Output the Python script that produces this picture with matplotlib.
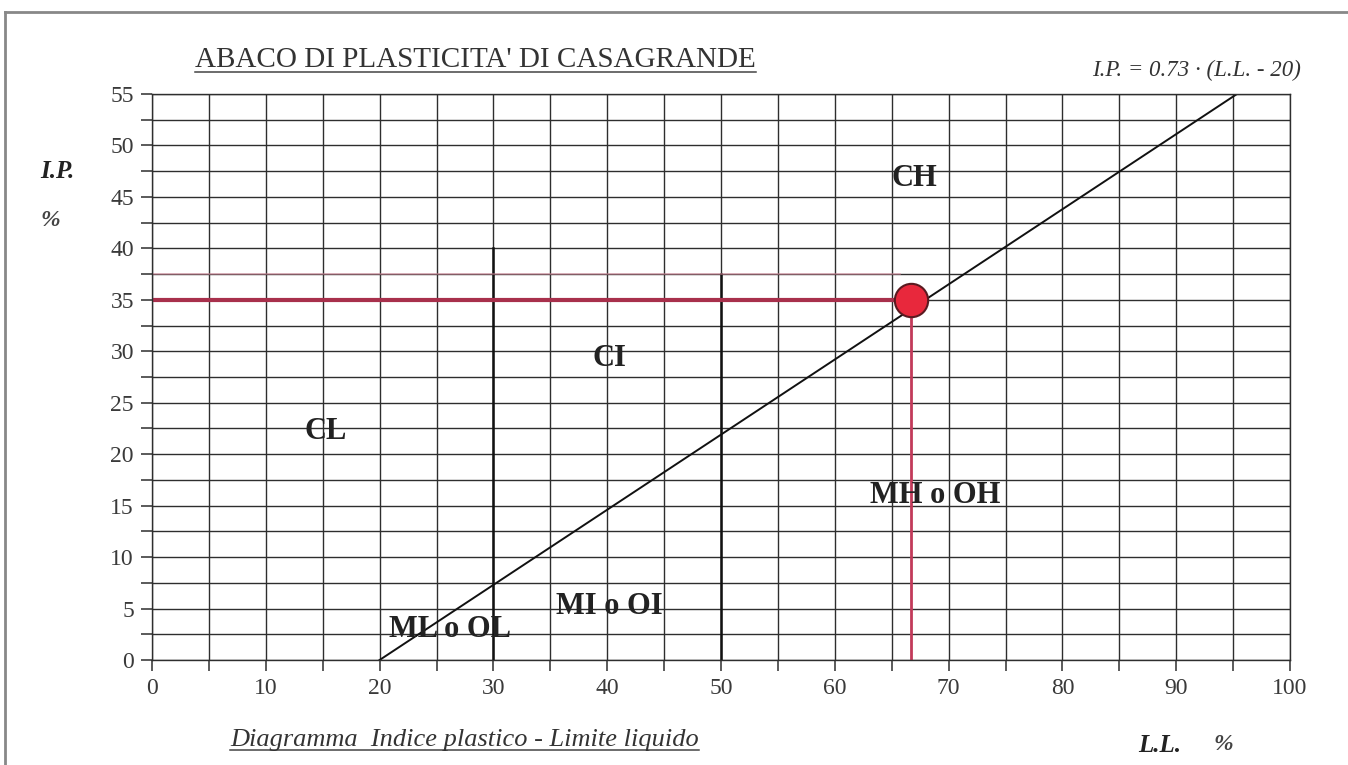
import matplotlib
matplotlib.use("Agg")
import matplotlib.pyplot as plt
from matplotlib.lines import Line2D
import numpy as np

plt.rcParams['font.family'] = ['Liberation Serif', 'DejaVu Serif']

# A-line: I.P. = 0.73 * (L.L. - 20)
a_line_ll = [20, 95.34]
a_line_ip = [0.0, 55.0]

# sample point
sample_ll = 66.7
sample_ip = 35.0

# zone boundaries (L.L. = 30 and 50)
bound_ll = [30, 50]
bound_top = [40, 37.5]

zone_labels = ["CH", "CI", "CL", "MH o OH", "MI o OI", "ML o OL"]
zone_x = [67.0, 40.2, 15.3, 68.8, 40.2, 26.2]
zone_y = [46.8, 29.3, 22.2, 16.0, 5.2, 3.0]

x_ticks = list(range(0, 101, 10))
y_ticks = list(range(0, 56, 5))

fig = plt.figure(figsize=(13.48, 7.65), dpi=100)
ax = fig.add_axes([152/1348, 1-660/765, (1290-152)/1348, (660-94)/765])
ax.set_xlim(0, 100)
ax.set_ylim(0, 55)

ax.set_xticks(x_ticks)
ax.set_xticks(np.arange(5, 100, 10), minor=True)
ax.set_yticks(y_ticks)
ax.set_yticks(np.arange(2.5, 55, 5), minor=True)
ax.tick_params(which='both', direction='out', length=8, width=1.1, color='#2e2e2e',
               labelsize=17, labelcolor='#3a3a3a', pad=5)
ax.grid(which='both', color='#2e2e2e', linewidth=1.0)
for s in ax.spines.values():
    s.set_color('#2e2e2e')
    s.set_linewidth(1.0)
ax.set_axisbelow(True)

for xb, yt in zip(bound_ll, bound_top):
    ax.plot([xb, xb], [0, yt], color='#111111', linewidth=1.8)

ax.plot(a_line_ll, a_line_ip, color='#111111', linewidth=1.4)

ax.plot([0, sample_ll], [sample_ip, sample_ip], color='#a8304c', linewidth=3)
ax.plot([sample_ll, sample_ll], [0, sample_ip], color='#c23a5a', linewidth=2)
ax.plot([0, sample_ll - 1], [37.5, 37.5], color='#d98a9c', linewidth=1.2, alpha=0.6)
ax.plot([sample_ll], [sample_ip], 'o', markersize=24, markerfacecolor='#e8283c',
        markeredgecolor='#5a1a20', markeredgewidth=1.5, zorder=5)

for lab, zx, zy in zip(zone_labels, zone_x, zone_y):
    ax.text(zx, zy, lab, fontsize=22, fontweight='bold', color='#222222',
            ha='center', va='center', zorder=6)

ax.text(101, 57.3, "I.P. = 0.73 · (L.L. - 20)", fontsize=16.5, style='italic',
        color='#333333', ha='right', va='center', clip_on=False)

title = fig.text(195/1348, 1-60/765, "ABACO DI PLASTICITA' DI CASAGRANDE",
                 fontsize=21, color='#333333', ha='left', va='center')
fig.text(40/1348, 1-172/765, "I.P.", fontsize=18, fontweight='bold', style='italic',
         color='#222222', ha='left', va='center')
fig.text(40/1348, 1-220/765, "%", fontsize=17, style='italic', fontweight='bold',
         color='#444444', ha='left', va='center')
sub = fig.text(230/1348, 1-740/765, "Diagramma  Indice plastico - Limite liquido",
               fontsize=19, style='italic', color='#333333', ha='left', va='center')
fig.text(1138/1348, 1-745/765, "L.L.", fontsize=18, fontweight='bold', style='italic',
         color='#222222', ha='left', va='center')
fig.text(1213/1348, 1-745/765, "%", fontsize=17, style='italic', fontweight='bold',
         color='#444444', ha='left', va='center')

# page frame
fig.add_artist(Line2D([5/1348, 1.0], [1-12/765, 1-12/765], transform=fig.transFigure,
                      color='#888888', linewidth=2))
fig.add_artist(Line2D([5/1348, 5/1348], [0, 1-12/765], transform=fig.transFigure,
                      color='#888888', linewidth=2))

# underline title and subtitle
fig.canvas.draw()
r = fig.canvas.get_renderer()
for t in (title, sub):
    bb = t.get_window_extent(r)
    y = (bb.y0 + 1) / fig.bbox.height
    fig.add_artist(Line2D([bb.x0 / fig.bbox.width, bb.x1 / fig.bbox.width], [y, y],
                          transform=fig.transFigure, color='#444444', linewidth=1.1))

fig.savefig("out.png", dpi=100, facecolor='white')
